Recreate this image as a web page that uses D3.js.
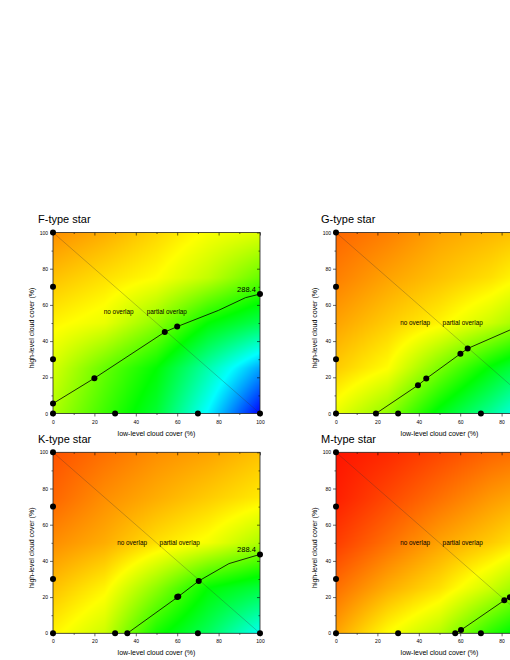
<!DOCTYPE html>
<html>
<head>
<meta charset="utf-8">
<script src="https://cdn.jsdelivr.net/npm/d3@7"></script>
<style>
  body { margin: 0; background: #fff; }
  svg { display: block; font-family: "Liberation Sans", Arial, sans-serif; }
</style>
</head>
<body>
<script>
// ---- data ----
var panelTitles = ["F-type star", "G-type star", "K-type star", "M-type star"];
var majorTicks = [0, 20, 40, 60, 80, 100];
var xTitle = "low-level cloud cover (%)";
var yTitle = "high-level cloud cover (%)";
var contourLabel = "288.4";

// colour level of the background (0 blue .. 1 red) at low/high = 0,25,50,75,100
// rows: high cloud 0 -> 100, columns: low cloud 0 -> 100
var gridSteps = [0, 25, 50, 75, 100];
var fieldF = [
  [0.67, 0.56, 0.45, 0.24, 0.0],
  [0.71, 0.60, 0.50, 0.33, 0.16],
  [0.76, 0.73, 0.64, 0.50, 0.42],
  [0.81, 0.78, 0.75, 0.69, 0.60],
  [0.86, 0.83, 0.79, 0.745, 0.72]
];
var fieldG = [
  [0.73, 0.64, 0.48, 0.35, 0.19],
  [0.80, 0.75, 0.62, 0.49, 0.37],
  [0.84, 0.80, 0.76, 0.70, 0.62],
  [0.875, 0.84, 0.81, 0.78, 0.73],
  [0.90, 0.875, 0.84, 0.82, 0.80]
];
var fieldK = [
  [0.76, 0.70, 0.52, 0.41, 0.26],
  [0.81, 0.76, 0.64, 0.50, 0.44],
  [0.86, 0.83, 0.78, 0.74, 0.67],
  [0.90, 0.86, 0.83, 0.80, 0.77],
  [0.92, 0.89, 0.86, 0.84, 0.81]
];
var fieldM = [
  [0.84, 0.75, 0.68, 0.54, 0.42],
  [0.89, 0.83, 0.78, 0.70, 0.60],
  [0.94, 0.89, 0.84, 0.80, 0.75],
  [0.97, 0.93, 0.89, 0.85, 0.82],
  [0.98, 0.96, 0.93, 0.90, 0.88]
];

// 288.4 contour, [low, high]
var lineF = [[0, 5.5], [20, 19.5], [54, 45], [60, 48], [80, 57], [93, 64], [100, 66]];
var lineG = [[19.3, 0], [39.6, 15.6], [43.6, 19.3], [60.1, 33], [63.6, 35.9], [84, 46.1], [100, 53.5]];
var lineK = [[35.9, 0], [60.1, 19.9], [70.4, 28.9], [85, 38.5], [100, 43.6]];
var lineM = [[57.6, 0], [60.4, 1.8], [81.3, 18.2], [84, 19.9], [100, 28]];

// computed cases (dots)
var pointsF = [[0, 0], [0, 5.5], [0, 30], [0, 70], [0, 100], [20, 19.5], [30, 0], [54, 45], [60, 48], [70, 0], [100, 0], [100, 66]];
var pointsG = [[0, 0], [0, 30], [0, 70], [0, 100], [19.3, 0], [30, 0], [39.6, 15.6], [43.6, 19.3], [60.1, 33], [63.6, 35.9], [70, 0], [100, 0], [100, 53.5]];
var pointsK = [[0, 0], [0, 30], [0, 70], [0, 100], [30, 0], [35.9, 0], [60, 20], [60.5, 20.3], [70, 0], [70.4, 28.9], [100, 0], [100, 43.6]];
var pointsM = [[0, 0], [0, 30], [0, 70], [0, 100], [30, 0], [57.6, 0], [60.4, 1.8], [70, 0], [81.3, 18.2], [84, 19.9], [100, 0], [100, 28]];

// ---- drawing ----
var svgW = 510;
var svg = d3.select("body").append("svg")
    .attr("width", svgW)
    .attr("height", 660);

var colour = d3.scaleLinear()
    .domain([0, 0.25, 0.5, 0.75, 1])
    .range(["#0000ff", "#00ffff", "#00ff00", "#ffff00", "#ff0000"])
    .clamp(true);

var panels = [
  {title: panelTitles[0], left: 53, top: 232.5, field: fieldF, line: lineF, points: pointsF, labY: 56.3, noX: 24.5, partX: 45.3},
  {title: panelTitles[1], left: 336, top: 232.5, field: fieldG, line: lineG, points: pointsG, labY: 50, noX: 31, partX: 51.5},
  {title: panelTitles[2], left: 53, top: 452.3, field: fieldK, line: lineK, points: pointsK, labY: 50, noX: 31, partX: 51.5},
  {title: panelTitles[3], left: 336, top: 452.3, field: fieldM, line: lineM, points: pointsM, labY: 50, noX: 31, partX: 51.5}
];

var W = 207, H = 181;

function fieldAt(f, lo, hi) {
  var fx = Math.max(0, Math.min(3.9999, lo / 25)),
      fy = Math.max(0, Math.min(3.9999, hi / 25));
  var j = Math.floor(fx), i = Math.floor(fy);
  var tx = fx - j, ty = fy - i;
  var a = f[i][j] * (1 - tx) + f[i][j + 1] * tx;
  var b = f[i + 1][j] * (1 - tx) + f[i + 1][j + 1] * tx;
  return a * (1 - ty) + b * ty;
}

function fieldImage(f, x, y) {
  var canvas = document.createElement("canvas");
  canvas.width = W;
  canvas.height = H;
  var ctx = canvas.getContext("2d");
  var img = ctx.createImageData(W, H);
  for (var py = 0; py < H; py++) {
    for (var px = 0; px < W; px++) {
      var lo = x.invert(x.range()[0] + px + 0.5),
          hi = y.invert(y.range()[1] + py + 0.5);
      var c = d3.rgb(colour(fieldAt(f, lo, hi)));
      var k = (py * W + px) * 4;
      img.data[k] = c.r; img.data[k + 1] = c.g; img.data[k + 2] = c.b; img.data[k + 3] = 255;
    }
  }
  ctx.putImageData(img, 0, 0);
  return canvas.toDataURL();
}

function styleAxis(sel, size) {
  sel.attr("font-family", null).attr("font-size", null);
  sel.select(".domain").remove();
  sel.selectAll("line").attr("stroke", "#000").attr("stroke-width", 0.6);
  sel.selectAll("text").style("font-size", size + "px").attr("fill", "#000");
}

panels.forEach(function(p) {
  var x = d3.scaleLinear().domain([0, 100]).range([p.left, p.left + W]);
  var y = d3.scaleLinear().domain([0, 100]).range([p.top + H, p.top]);
  var g = svg.append("g");

  g.append("image")
      .attr("x", p.left).attr("y", p.top)
      .attr("width", W).attr("height", H)
      .attr("preserveAspectRatio", "none")
      .attr("href", fieldImage(p.field, x, y));

  // axes: bottom/left outward with labels, top/right inward
  var minor = d3.range(10, 100, 20);
  // labels only where they fall inside the page (right panels are cut)
  var shownTicks = majorTicks.filter(function(v) { return x(v) + 5 < svgW; });
  g.append("g").attr("transform", "translate(0," + y(0) + ")")
      .call(d3.axisBottom(x).tickValues(shownTicks).tickSize(3).tickPadding(3.5).tickSizeOuter(0))
      .call(styleAxis, 5);
  g.append("g").attr("transform", "translate(0," + y(0) + ")")
      .call(d3.axisBottom(x).tickValues(minor).tickSize(1.5).tickFormat("").tickSizeOuter(0))
      .call(styleAxis, 5);
  g.append("g").attr("transform", "translate(" + x(0) + ",0)")
      .call(d3.axisLeft(y).tickValues(majorTicks).tickSize(3).tickPadding(2).tickSizeOuter(0))
      .call(styleAxis, 5);
  g.append("g").attr("transform", "translate(" + x(0) + ",0)")
      .call(d3.axisLeft(y).tickValues(minor).tickSize(1.5).tickFormat("").tickSizeOuter(0))
      .call(styleAxis, 5);
  g.append("g").attr("transform", "translate(0," + y(100) + ")")
      .call(d3.axisTop(x).tickValues(majorTicks).tickSize(-3).tickFormat("").tickSizeOuter(0))
      .call(styleAxis, 5);
  g.append("g").attr("transform", "translate(0," + y(100) + ")")
      .call(d3.axisTop(x).tickValues(minor).tickSize(-1.5).tickFormat("").tickSizeOuter(0))
      .call(styleAxis, 5);
  g.append("g").attr("transform", "translate(" + x(100) + ",0)")
      .call(d3.axisRight(y).tickValues(majorTicks).tickSize(-3).tickFormat("").tickSizeOuter(0))
      .call(styleAxis, 5);
  g.append("g").attr("transform", "translate(" + x(100) + ",0)")
      .call(d3.axisRight(y).tickValues(minor).tickSize(-1.5).tickFormat("").tickSizeOuter(0))
      .call(styleAxis, 5);

  g.append("rect")
      .attr("x", x(0)).attr("y", y(100))
      .attr("width", W).attr("height", H)
      .attr("fill", "none").attr("stroke", "#222").attr("stroke-width", 0.8);

  // overlap boundary
  g.append("line")
      .attr("x1", x(0)).attr("y1", y(100))
      .attr("x2", x(100)).attr("y2", y(0))
      .attr("stroke", "#333").attr("stroke-width", 0.5).attr("stroke-opacity", 0.55);

  g.append("text").attr("x", x(p.noX)).attr("y", y(p.labY)).attr("dy", "0.35em")
      .style("font-size", "6.4px").text("no overlap");
  g.append("text").attr("x", x(p.partX)).attr("y", y(p.labY)).attr("dy", "0.35em")
      .style("font-size", "6.4px").text("partial overlap");

  // 288.4 contour
  g.append("path")
      .datum(p.line)
      .attr("fill", "none").attr("stroke", "#000").attr("stroke-width", 0.8)
      .attr("d", d3.line().x(function(d) { return x(d[0]); }).y(function(d) { return y(d[1]); }));

  var last = p.line[p.line.length - 1];
  if (x(98) < svgW) {
    g.append("text")
        .attr("x", x(98)).attr("y", y(last[1] + 2.5)).attr("dy", "0.35em")
        .attr("text-anchor", "end")
        .style("font-size", "7.5px").text(contourLabel);
  }

  g.selectAll("circle.pt")
      .data(p.points)
      .enter().append("circle")
      .attr("class", "pt")
      .attr("cx", function(d) { return x(d[0]); })
      .attr("cy", function(d) { return y(d[1]); })
      .attr("r", 3)
      .attr("fill", "#000");

  // titles
  g.append("text").attr("x", p.left - 15).attr("y", p.top - 9.5)
      .style("font-size", "11px").text(p.title);
  g.append("text").attr("x", x(50)).attr("y", y(0) + 22)
      .attr("text-anchor", "middle").style("font-size", "7px").text(xTitle);
  g.append("text")
      .attr("transform", "translate(" + (p.left - 19.5) + "," + (p.top + H / 2 + 5) + ") rotate(-90)")
      .attr("text-anchor", "middle").style("font-size", "7px").text(yTitle);
});
</script>
</body>
</html>
